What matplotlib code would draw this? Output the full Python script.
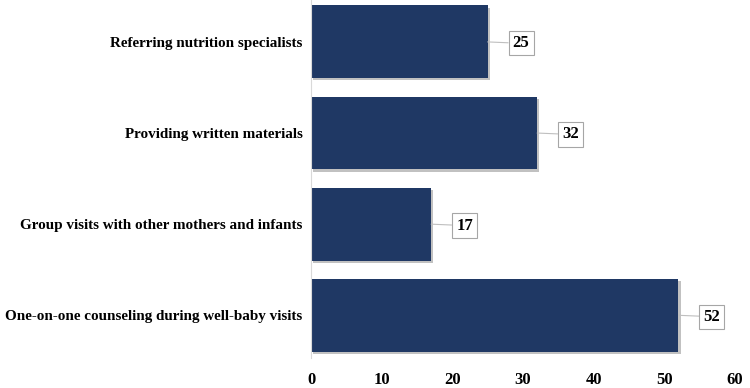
import matplotlib
matplotlib.use('Agg')
import matplotlib.pyplot as plt
import matplotlib.patheffects as pe

categories = [
    'One-on-one counseling during well-baby visits',
    'Group visits with other mothers and infants',
    'Providing written materials',
    'Referring nutrition specialists',
]
values = [52, 17, 32, 25]
xticks = [0, 10, 20, 30, 40, 50, 60]

plt.rcParams['font.family'] = ['Liberation Serif', 'DejaVu Serif']
plt.rcParams['font.weight'] = 'bold'

fig = plt.figure(figsize=(7.5, 3.88), dpi=100)
ax = fig.add_axes([0.4147, 0.077, 0.5653, 0.923])

bars = ax.barh(range(len(categories)), values, height=0.8, color='#1F3864',
               path_effects=[pe.SimplePatchShadow(offset=(1.5, -1.5), shadow_rgbFace='#999999', alpha=0.6),
                             pe.Normal()])

for i, v in enumerate(values):
    ax.annotate(str(v), xy=(v, i), xytext=(18, -1), textcoords='offset points',
                ha='left', va='center', fontsize=12, fontweight='bold',
                bbox=dict(boxstyle='square,pad=0.25', fc='white', ec='#A6A6A6', lw=0.8),
                arrowprops=dict(arrowstyle='-', color='#BFBFBF', lw=0.8, shrinkA=0, shrinkB=0))

ax.set_xlim(0, 60)
ax.set_ylim(-0.47, 3.46)
ax.set_xticks(xticks)
ax.set_yticks(range(len(categories)))
ax.set_yticklabels(categories, fontsize=10.9, fontweight='bold')
ax.tick_params(axis='x', length=0, labelsize=12, pad=10)
ax.tick_params(axis='y', length=0, pad=6)
for lbl in ax.get_xticklabels():
    lbl.set_fontweight('bold')

for s in ['top', 'right', 'bottom']:
    ax.spines[s].set_visible(False)
ax.spines['left'].set_color('#D9D9D9')

fig.savefig('out.png', dpi=100)
